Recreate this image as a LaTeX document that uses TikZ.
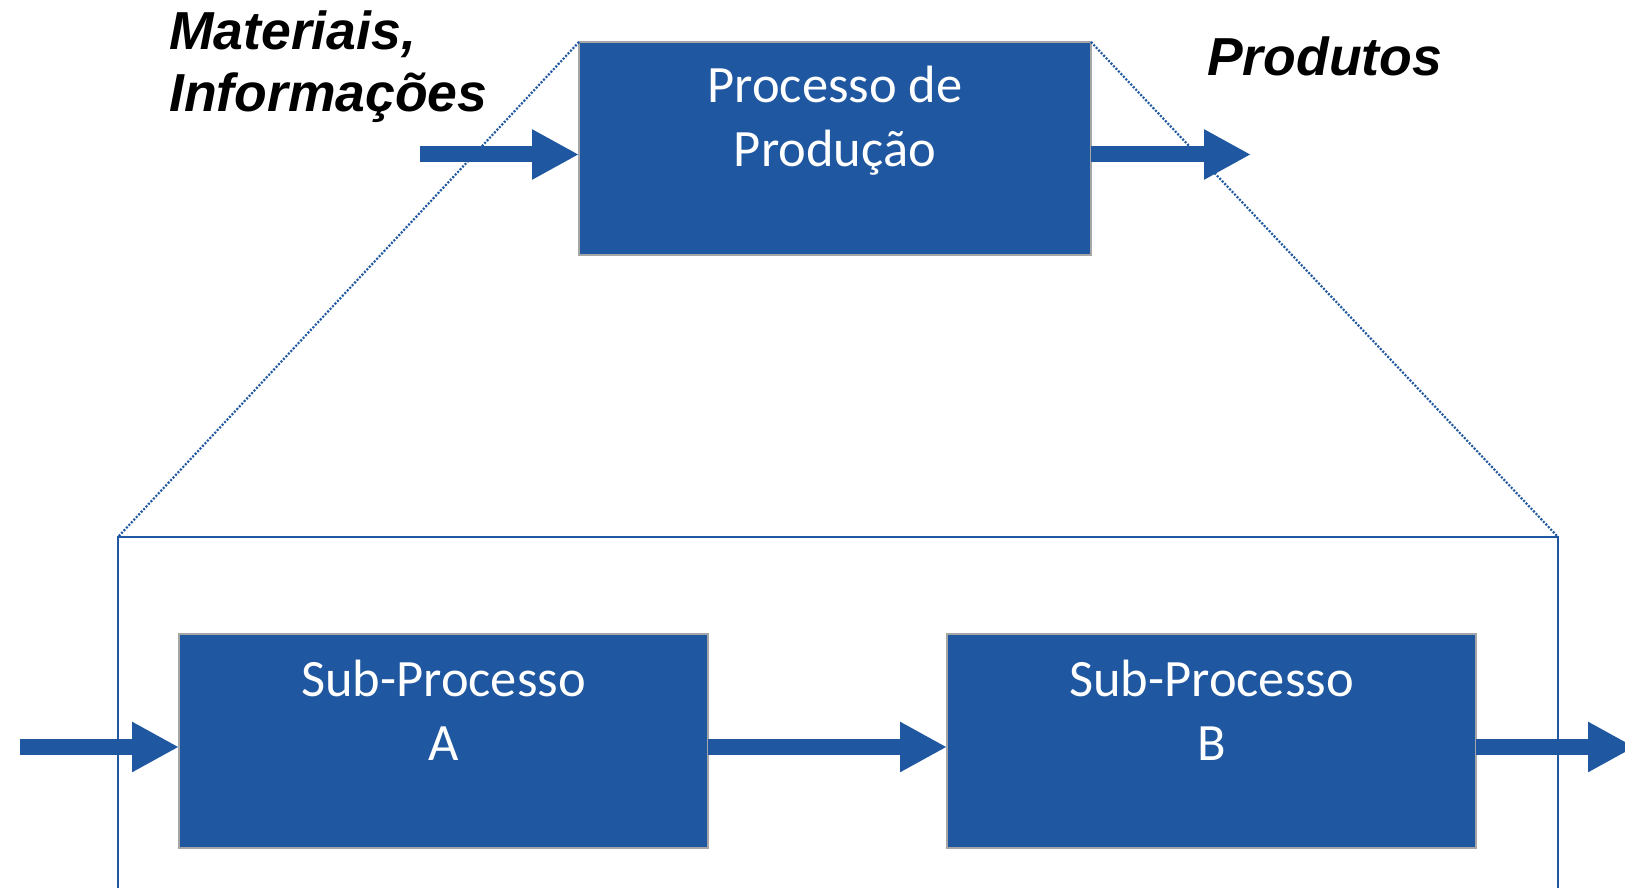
\documentclass[tikz,border=0pt]{standalone}
\usepackage{fontspec}
\setmainfont{Carlito}
\newfontfamily\arialfont{Liberation Sans}
\usetikzlibrary{arrows.meta}
\definecolor{boxblue}{RGB}{31,87,160}
\definecolor{boxgray}{RGB}{166,166,166}
\tikzset{
  procbox/.style={draw=boxgray, line width=2.5pt, fill=boxblue, minimum width=512pt, minimum height=213pt, inner sep=0pt, outer sep=0pt},
  subbox/.style={procbox, minimum width=529pt, minimum height=214pt},
  boxtext/.style={text=white, font=\fontsize{52.5}{64}\selectfont, inner sep=0pt, anchor=base},
  labeltext/.style={font=\arialfont\bfseries\itshape\fontsize{53.5}{63}\selectfont, inner sep=0pt, anchor=base west, text=black},
  flow/.style={draw=boxblue, line width=16pt, -{Triangle[length=47pt,width=47pt]}},
  zoomline/.style={draw=boxblue, line width=2.2pt, dash pattern=on 2pt off 1.6pt},
  frameline/.style={draw=boxblue, line width=2.2pt}
}
\begin{document}
\begin{tikzpicture}[x=1pt,y=1pt]
\useasboundingbox (0,0) rectangle (1625,887);
% top process
\node[procbox] (P) at (835,738.5) {};
\node[boxtext] (Pt1) at (835,784) {Processo de};
\node[boxtext] (Pt2) at (835,720) {Produção};
% sub-processes
\node[subbox] (A) at (443.5,146) {};
\node[boxtext] (At1) at (443.5,191) {Sub-Processo};
\node[boxtext] (At2) at (443.5,127) {A};
\node[subbox] (B) at (1211.5,146) {};
\node[boxtext] (Bt1) at (1211.5,191) {Sub-Processo};
\node[boxtext] (Bt2) at (1211.5,127) {B};
% frame
\coordinate (FL) at (118,350);
\coordinate (FR) at (1558,350);
\coordinate (FLb) at (118,-5);
\coordinate (FRb) at (1558,-5);
\draw[frameline] (FLb) -- (FL) -- (FR) -- (FRb);
% zoom lines
\draw[zoomline] (P.north west) -- (FL);
\draw[zoomline] (P.north east) -- (FR);
% labels
\node[labeltext] (L1) at (169,837) {Materiais,};
\node[labeltext] (L2) at (169,775) {Informações};
\node[labeltext] (L3) at (1207,811) {Produtos};
% flows top
\coordinate (inP) at (420,732.5);
\coordinate (outP) at (1251,732.5);
\draw[flow] (inP) -- (inP -| P.west);
\draw[flow] (outP -| P.east) -- (outP);
% flows bottom
\coordinate (inA) at (20,140);
\coordinate (outB) at (1635,140);
\draw[flow] (inA) -- (inA -| A.west);
\draw[flow] (inA -| A.east) -- (inA -| B.west);
\draw[flow] (outB -| B.east) -- (outB);
\end{tikzpicture}
\end{document}
